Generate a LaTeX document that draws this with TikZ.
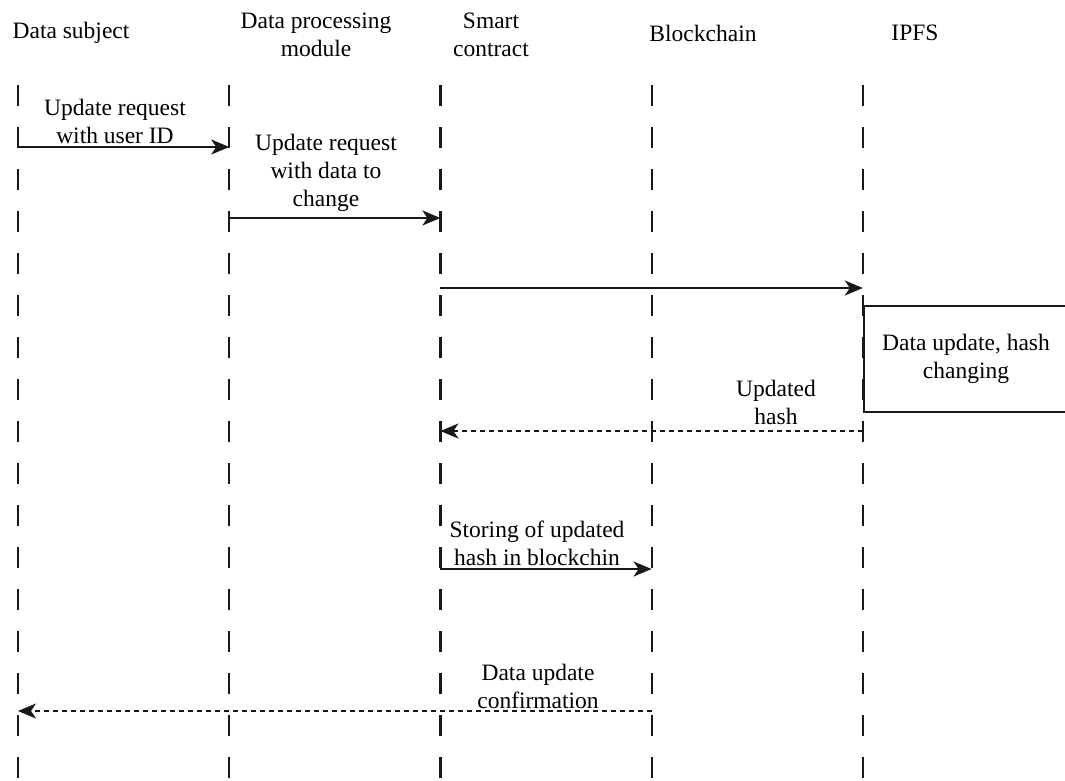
\documentclass[tikz,border=0pt]{standalone}
\usepackage{fontspec}
\setmainfont{Liberation Serif}
\usetikzlibrary{arrows.meta}
\begin{document}
\begin{tikzpicture}[x=1pt,y=-1pt,
  lbl/.style={inner sep=0pt, align=center, font=\fontsize{23.5}{28}\selectfont},
  life/.style={line width=2.2pt, dash pattern=on 21pt off 21pt, draw=black!90},
  msg/.style={line width=2pt, draw=black!90, -{Stealth[length=18pt,width=15pt,inset=5pt]}},
  ret/.style={msg, dash pattern=on 5pt off 4pt},
  procbox/.style={draw=black!90, line width=2pt, minimum width=213pt, minimum height=106pt, inner sep=0pt, anchor=north west}
]
\clip (0,0) rectangle (1065,780);
\fill[white] (0,0) rectangle (1065,780);

% headers
\node[lbl] (hds) at (71,33) {Data subject};
\node[lbl] (hdp) at (316,35) {Data processing\\module};
\node[lbl] (hsc) at (491,35) {Smart\\contract};
\node[lbl] (hbc) at (703,33) {Blockchain};
\node[lbl] (hip) at (915,33) {IPFS};

% lifelines
\foreach \n/\x in {ds/18, dp/229.2, sc/440.4, bc/651.6, ip/862.8}{
  \coordinate (\n top) at (\x,85);
  \coordinate (\n bot) at (\x,780);
  \draw[life] (\n top) -- (\n bot);
}

% message points
\coordinate (m1a) at (18,147);    \coordinate (m1b) at (229.2,147);
\coordinate (m2a) at (229.2,218); \coordinate (m2b) at (440.4,218);
\coordinate (m3a) at (440.4,288); \coordinate (m3b) at (862.8,288);
\coordinate (m5a) at (862.8,431); \coordinate (m5b) at (440.4,431);
\coordinate (m6a) at (440.4,569); \coordinate (m6b) at (651.6,569);
\coordinate (m7a) at (651.6,711); \coordinate (m7b) at (18,711);

\draw[msg] (m1a) -- (m1b);
\draw[msg] (m2a) -- (m2b);
\draw[msg] (m3a) -- (m3b);
\draw[ret] (m5a) -- (m5b);
\draw[msg] (m6a) -- (m6b);
\draw[ret] (m7a) -- (m7b);

% process box at IPFS
\node[procbox] (upd) at (862.8,305) {};
\node[lbl] (updtxt) at (966,359) {Data update, hash\\changing};

% labels
\node[lbl] (l1) at (115,121) {Update request\\with user ID};
\node[lbl] (l2) at (326,173) {Update request\\with data to\\change};
\node[lbl] (l5) at (776,402) {Updated\\hash};
\node[lbl] (l6) at (537,543) {Storing of updated\\hash in blockchin};
\node[lbl] (l7) at (538,686) {Data update\\confirmation};
\end{tikzpicture}
\end{document}
